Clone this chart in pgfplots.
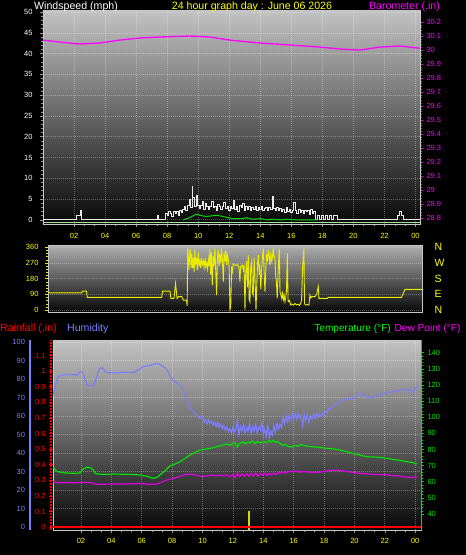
\documentclass[border=0pt]{standalone}
\usepackage{fontspec}
\setmainfont{Liberation Sans}
\usepackage{pgfplots}
\pgfplotsset{compat=1.18}
\definecolor{ylw}{RGB}{255,255,0}
\definecolor{dirylw}{RGB}{235,235,0}
\definecolor{mag}{RGB}{255,0,255}
\definecolor{dewmag}{RGB}{225,0,225}
\definecolor{humblue}{RGB}{125,125,255}
\definecolor{tgreen}{RGB}{0,225,0}
\definecolor{lgreen}{RGB}{160,235,160}
\definecolor{wgreen}{RGB}{0,215,0}
\definecolor{framegray}{RGB}{200,200,200}
\definecolor{tickgray}{RGB}{150,150,150}
\definecolor{bgtop}{RGB}{195,195,195}
\definecolor{bgmid}{RGB}{175,175,175}
\definecolor{bgbot}{RGB}{8,8,8}
\definecolor{windwhite}{RGB}{235,235,235}

\pgfplotsset{
  base/.style={scale only axis, axis line style={framegray, line width=0.8pt},
    tick align=outside, major tick length=3pt, minor tick length=2pt,
    tick style={tickgray, line width=0.6pt},
    tick label style={font=\fontsize{7.5}{8}\selectfont},
    /pgf/number format/assume math mode=true},
  gridst/.style={major grid style={white, opacity=0.3, line width=0.7pt, dash pattern=on 1pt off 1pt}},
}

\begin{document}
\begin{tikzpicture}
\fill[black] (0pt,0pt) rectangle (466pt,-555pt);

% ---------------- top panel: wind ----------------
\begin{axis}[base, gridst, at={(43pt,-224pt)}, anchor=south west, width=377pt, height=214pt,
  xmin=0, xmax=24.29, ymin=-1, ymax=50.5,
  axis background/.style={top color=bgtop, bottom color=bgbot},
  xtick={2,4,...,24}, xticklabels={02,04,06,08,10,12,14,16,18,20,22,00},
  minor x tick num=2,
  ytick={0,5,...,50}, minor y tick num=4,
  xmajorgrids, ymajorgrids,
  ytick pos=left, xtick pos=bottom,
  xticklabel style={ylw, yshift=-2.5pt},
  yticklabel style={white, xshift=-4pt}]
\addplot[lgreen, line width=1.6pt] coordinates {(0,-0.6) (24.29,-0.6)};
\addplot[const plot, windwhite, line width=0.7pt] coordinates {
(0,0)(2.1,0)(2.15,1.2)(2.3,1.2)(2.4,2.4)(2.5,0)(7.3,0)(7.35,1)(7.45,0)(7.9,1.5)(8.0,1)(8.1,2)(8.2,1.5)(8.3,0.8)(8.4,2)(8.5,1.5)(8.6,2)(8.7,1.2)(8.8,2.2)(8.9,1.8)
(9.0,2.5)(9.1,3.3)(9.2,2.2)(9.3,3.5)(9.4,4.9)(9.5,3)(9.6,8)(9.65,5.5)(9.75,3.3)(9.85,5.9)(9.95,3.5)
(10.05,2.8)(10.15,3.5)(10.25,4.4)(10.35,2.5)(10.45,4)(10.55,3.3)(10.65,2.6)(10.75,3.3)(10.85,4.4)(10.95,3)
(11.05,3.3)(11.15,2.2)(11.25,3.8)(11.35,3.3)(11.45,2.5)(11.55,3.3)(11.65,4.2)(11.75,2.8)(11.85,3.3)(11.95,2.3)
(12.05,3.3)(12.15,2.8)(12.25,4.6)(12.35,2.5)(12.45,3.3)(12.55,2)(12.65,3.6)(12.75,3)(12.85,4)(12.95,2.4)
(13.05,3.3)(13.15,2.6)(13.25,3.3)(13.35,2.2)(13.45,3)(13.55,2.5)(13.65,3.3)(13.75,2.3)(13.85,3)(13.95,2.6)
(14.05,3.3)(14.15,2.2)(14.25,2.8)(14.35,3)(14.45,2.3)(14.55,3)(14.65,2.6)(14.75,5.7)(14.85,2.8)(14.95,2.2)
(15.05,3)(15.15,2.4)(15.25,2.8)(15.35,2.1)(15.45,2.6)(15.55,1.8)(15.65,2.9)(15.75,2)(15.85,2.5)(15.95,1.9)
(16.05,2.3)(16.15,4.3)(16.25,2.3)(16.35,1.6)(16.45,2.5)(16.55,1.7)(16.65,2.4)(16.75,1.5)(16.85,2.4)(16.95,2)
(17.05,2.2)(17.15,1.3)(17.25,2.5)(17.35,1.6)(17.45,2)(17.55,0)(17.7,1.1)(17.8,0)(17.95,1.1)(18.05,0)(18.2,1.1)(18.3,0)(18.45,1.1)(18.55,0)(18.7,1.1)(18.95,0)
(22.8,0)(22.85,1.1)(22.95,2.1)(23.1,1.1)(23.2,0)(24.29,0)};
\addplot[wgreen, line width=1pt] coordinates {
(9.02,0)(9.45,0.55)(9.88,1.35)(10.1,1.1)(10.5,0.8)(11.2,1.1)(11.6,0.8)(12.2,0.3)(12.9,0.3)(13.1,0.55)(13.5,0.15)(14.0,0.3)(14.4,0)(14.8,0.15)(15.3,0)(15.7,0.15)(16.3,0)(16.8,0)(17.4,0)(17.7,0)};
\end{axis}

% barometer
\begin{axis}[base, at={(43pt,-224pt)}, anchor=south west, width=377pt, height=214pt,
  xmin=0, xmax=24.29, ymin=28.757, ymax=30.286,
  hide x axis, axis y line*=right,
  ytick={28.8,28.9,29,29.1,29.2,29.3,29.4,29.5,29.6,29.7,29.8,29.9,30,30.1,30.2},
  minor y tick num=4, tick style={mag},
  yticklabel style={mag}]
\addplot[mag, line width=1.3pt] coordinates {
(0,30.071)(1.06,30.057)(2.35,30.043)(3.65,30.05)(4.94,30.071)(6.23,30.086)(7.52,30.093)(9.45,30.1)(10.74,30.093)(12.03,30.071)(13.97,30.05)(15.9,30.036)(17.84,30.021)(19.13,30.007)(20.42,30.0)(21.71,30.021)(23.0,30.029)(24.16,30.014)(24.29,30.014)};
\end{axis}

% ---------------- middle panel: wind direction ----------------
\begin{axis}[base, gridst, at={(48pt,-312pt)}, anchor=south west, width=374pt, height=67pt,
  xmin=-0.03, xmax=24.1, ymin=-11, ymax=373,
  axis background/.style={top color=bgmid, bottom color=bgbot},
  xtick=\empty, ytick={0,90,180,270,360}, minor y tick num=4, ymajorgrids,
  ytick pos=left, tick style={dirylw},
  yticklabel style={ylw, xshift=-3pt}]
\addplot[dirylw, line width=0.9pt] coordinates {
(0,99)(2.14,99)(2.2,109)(2.45,109)(2.5,73)(7.3,73)(7.37,109)(7.84,109)(7.9,67)(8.1,67)(8.2,153)(8.3,67)(8.4,77)(8.6,77)(8.7,57)(8.9,57)(8.95,25)
(8.98,354)(9.03,300)(9.06,230)(9.09,277)(9.13,354)(9.17,330)(9.2,240)(9.25,320)(9.3,240)(9.35,300)(9.4,220)(9.45,345)(9.5,260)(9.56,300)(9.6,230)(9.67,330)(9.72,250)(9.77,290)(9.82,240)(9.88,300)(9.93,260)(9.99,280)
(10.04,245)(10.1,300)(10.15,250)(10.2,270)(10.25,235)(10.31,290)(10.36,250)(10.42,350)(10.47,200)(10.52,330)(10.57,143)(10.63,310)(10.68,250)(10.74,354)(10.79,230)(10.85,86)(10.9,300)(10.96,345)
(11.01,250)(11.06,320)(11.12,270)(11.17,354)(11.22,290)(11.28,163)(11.33,330)(11.39,280)(11.44,345)(11.49,260)(11.55,316)(11.6,290)(11.66,240)(11.71,0)(11.76,20)(11.82,250)(11.87,220)(11.92,265)
(12.0,260)(12.1,255)(12.2,262)(12.3,240)(12.35,163)(12.4,250)(12.5,258)(12.57,230)(12.62,260)(12.68,0)(12.72,200)(12.78,280)(12.84,130)(12.89,316)(12.95,60)
(13.0,48)(13.05,250)(13.11,278)(13.16,100)(13.21,86)(13.27,300)(13.32,200)(13.39,0)(13.44,150)(13.5,280)(13.54,316)(13.6,200)(13.64,260)(13.7,120)(13.75,220)(13.8,300)(13.86,354)(13.92,200)(13.97,105)
(14.03,250)(14.08,320)(14.13,280)(14.18,345)(14.24,300)(14.28,259)(14.33,330)(14.4,280)(14.45,300)(14.5,354)(14.55,310)(14.61,297)(14.66,200)(14.71,160)(14.76,67)(14.82,220)(14.89,354)(14.94,105)
(15.0,86)(15.05,67)(15.1,96)(15.15,60)(15.2,86)(15.26,48)(15.31,70)(15.36,120)(15.41,325)(15.46,50)(15.51,48)(15.56,55)(15.62,30)(15.7,35)(15.8,28)(15.9,38)
(16.0,30)(16.1,34)(16.2,26)(16.28,40)(16.33,60)(16.4,250)(16.48,354)(16.52,40)(16.58,29)(16.7,32)(16.8,29)(16.87,86)(16.93,70)
(17.0,77)(17.2,77)(17.3,90)(17.41,134)(17.45,67)(18.0,67)(18.05,73)(22.78,73)(23.0,119)(24.1,119)};
\end{axis}

% compass letters
\begin{axis}[base, at={(48pt,-312pt)}, anchor=south west, width=374pt, height=67pt,
  xmin=-0.03, xmax=24.1, ymin=-11, ymax=373,
  hide x axis, axis y line*=right, axis line style={draw=none},
  ytick={0,90,180,270,360}, yticklabels={N,E,S,W,N}, major tick length=0pt,
  yticklabel style={ylw, font=\fontsize{10.5}{12}\selectfont, xshift=9pt}]
\addplot[draw=none] coordinates {(0,0)};
\end{axis}

% ---------------- bottom panel ----------------
% frame + rain
\begin{axis}[base, gridst, at={(53pt,-530pt)}, anchor=south west, width=368pt, height=190pt,
  xmin=0.16, xmax=24.38, ymin=-0.019, ymax=1.2,
  axis background/.style={top color=bgtop, bottom color=bgbot},
  xtick={2,4,...,24}, xticklabels={02,04,06,08,10,12,14,16,18,20,22,00},
  minor x tick num=2, xmajorgrids, ytick=\empty, xtick pos=bottom,
  xticklabel style={ylw, yshift=-1.5pt}]
\addplot[ylw!85!black, line width=1.1pt] coordinates {(13.06,-0.019)(13.06,0.1)};
\addplot[red, line width=2.2pt] coordinates {(0.16,0)(24.38,0)};
\end{axis}

% humidity data + grid
\begin{axis}[base, gridst, at={(53pt,-530pt)}, anchor=south west, width=368pt, height=190pt,
  xmin=0.16, xmax=24.38, ymin=-1.5, ymax=101.2,
  axis line style={draw=none}, xtick=\empty,
  ytick={10,20,...,100}, yticklabels={}, major tick length=0pt, ymajorgrids]
\addplot[humblue, line width=1.2pt] coordinates {
(0.16,71.5)(0.3,76)(0.49,81.4)(0.82,82.3)(1.28,82.5)(1.74,82.3)(1.94,84.1)(2.14,83.5)(2.3,79)(2.45,76.5)(2.8,76.4)(2.99,80)(3.15,84.5)(3.26,86)(3.45,86.1)(3.6,84)(3.72,83.6)(4.24,83.4)(4.9,83.8)(5.43,83.6)(5.69,84.6)(6.09,86.8)(6.55,87.5)(7.01,88.6)(7.2,88)(7.47,86.5)(7.66,85)(7.85,82)(8.06,79.2)(8.39,77.5)(8.72,75.1)(8.91,70)(9.05,67)(9.2,64.5)(9.38,62.5)(9.6,60.5)(9.84,58.9)
(10.0,59.5)(10.1,56.8)(10.2,58.2)(10.3,56.0)(10.4,58.0)(10.5,56.2)(10.6,57.0)(10.7,55.2)(10.8,56.8)(10.9,54.5)
(11.0,56.5)(11.1,54.0)(11.2,55.8)(11.3,53.2)(11.4,55.0)(11.5,52.5)(11.6,54.2)(11.7,51.8)(11.8,53.5)(11.9,51.0)
(12.0,54.0)(12.1,51.5)(12.2,53.0)(12.3,58.0)(12.4,50.0)(12.5,54.5)(12.6,52.0)(12.7,55.5)(12.8,51.0)(12.9,54.0)
(13.0,52.0)(13.1,56.0)(13.2,50.5)(13.3,54.5)(13.4,52.0)(13.5,55.5)(13.6,51.0)(13.7,54.0)(13.8,52.5)(13.9,56.5)
(14.0,50.5)(14.1,53.0)(14.2,49.0)(14.3,55.0)(14.4,48.5)(14.5,52.0)(14.6,50.0)(14.7,55.0)(14.8,51.5)(14.9,56.0)
(15.0,53.0)(15.1,55.5)(15.2,54.0)(15.3,59.0)(15.4,56.0)(15.5,60.0)(15.6,57.0)(15.7,60.5)(15.8,58.0)(15.9,61.5)
(16.0,58.5)(16.1,61.0)(16.2,58.5)(16.3,61.5)(16.4,59.0)(16.5,60.5)(16.6,55.0)(16.7,61.0)(16.8,58.0)(16.9,60.5)
(17.0,56.5)(17.1,60.0)(17.2,58.5)(17.3,61.0)(17.4,59.0)(17.5,61.5)(17.6,59.5)(17.7,61.0)(17.8,60.0)(17.9,61.5)
(18.0,61.0)(18.1,62.5)(18.2,62.0)(18.3,64.0)(18.4,64.0)(18.6,65.5)(18.8,67.0)(19.0,67.5)(19.24,68.8)(19.5,69.5)(19.9,69.2)(20.1,71)(20.36,72.4)(20.6,71.5)(21.02,69.7)(21.3,70.5)(21.68,71.5)(22.1,72.8)(22.53,73.3)(23.0,74.2)(23.45,74.6)(23.7,74)(23.84,73)(24.0,75)(24.18,76.9)};
\end{axis}

% temperature + dew point
\begin{axis}[base, at={(53pt,-530pt)}, anchor=south west, width=368pt, height=190pt,
  xmin=0.16, xmax=24.38, ymin=30.1, ymax=147.9,
  hide x axis, axis y line*=right, axis line style={-, tgreen, line width=1pt},
  ytick={40,50,...,140}, minor y tick num=4, tick style={tgreen},
  yticklabel style={tgreen}]
\addplot[tgreen, line width=1.2pt] coordinates {
(0.16,69.3)(0.35,67)(0.49,66.2)(0.95,65.5)(1.61,65.2)(1.94,65.5)(2.14,67.9)(2.35,69)(2.6,68.8)(2.8,67.5)(2.93,65.2)(3.26,64.6)(4.24,64.8)(5.23,64.6)(5.89,64.2)(6.35,63.4)(6.74,62.1)(7.01,62.8)(7.2,64.2)(7.53,67)(7.86,69.8)(8.2,71)(8.52,72.4)(9.18,76.6)(9.84,79.7)(10.2,80.2)(10.49,80.7)(10.9,81.6)(11.35,82.8)(11.6,83.5)(11.8,82.6)(12.01,83.8)(12.15,84.3)(12.27,81.5)(12.4,83.2)(12.47,83.8)(12.7,84.8)(12.8,83.5)(13.0,84.6)(13.13,84.2)(13.3,85.3)(13.45,83.6)(13.6,85)(13.8,84)(13.99,85)(14.2,84.2)(14.4,85.6)(14.55,84.6)(14.64,85.8)(14.8,84.5)(14.95,84.8)(15.1,83.8)(15.3,82.6)(15.45,83.3)(15.56,82.2)(15.75,81.6)(15.92,81.9)(16.1,82.6)(16.3,81.9)(16.45,83)(16.61,82.8)(16.9,82)(17.27,81.7)(17.7,81.3)(18.19,80.7)(18.6,80.4)(19.05,79.7)(19.5,78.6)(19.9,77.6)(20.36,76.5)(20.82,75.5)(21.2,75.4)(21.68,75.1)(22.1,74.6)(22.53,73.9)(23.0,73.3)(23.45,72.4)(23.8,72.0)(24.11,71)};
\addplot[dewmag, line width=1.2pt] coordinates {
(0.16,60)(0.5,59.4)(1.0,59.6)(1.5,59.4)(2.0,59.5)(2.4,59.6)(2.8,59.2)(3.0,58.4)(4.0,58.6)(5.0,58.6)(5.9,59)(6.5,58.4)(7.0,58.6)(7.66,61.1)(8.33,62.8)(8.98,64.8)(9.3,64.6)(9.6,64.2)(9.9,63.2)(10.3,63.6)(10.6,64.2)(10.9,63.6)(11.15,64.3)(11.4,63.5)(11.6,64.4)(11.8,63)(12.0,64.5)(12.15,62.5)(12.3,65.5)(12.45,63.2)(12.6,64.8)(12.75,63.4)(12.9,65)(13.05,63.4)(13.2,65.2)(13.35,63.6)(13.5,65.4)(13.65,63.5)(13.8,65)(13.95,64)(14.1,65.5)(14.25,63.8)(14.4,65.2)(14.55,64.2)(14.7,65.3)(14.85,64.6)(15.0,65.6)(15.1,65.2)(15.3,66.2)(15.5,65.4)(15.7,66.5)(15.95,66.2)(16.2,66.8)(16.4,65.8)(16.6,66.4)(16.87,66.2)(17.2,65.8)(17.73,66)(18.2,66.7)(18.59,67.3)(19.0,67)(19.51,66.5)(19.9,65.8)(20.36,65.2)(20.8,65)(21.22,64.6)(21.7,64.6)(22.14,64.2)(22.6,63.8)(22.99,63.6)(23.45,62.8)(23.8,62.7)(24.11,63)};
\end{axis}

% humidity scale
\begin{axis}[base, at={(30pt,-530pt)}, anchor=south west, width=1pt, height=190pt,
  xmin=0, xmax=1, ymin=-1.5, ymax=101.2,
  hide x axis, axis y line=left, axis line style={-, humblue, line width=1.6pt},
  ytick={0,10,...,100}, minor y tick num=4, tick style={humblue},
  yticklabel style={humblue}]
\addplot[draw=none] coordinates {(0,0)};
\end{axis}

% rain scale
\begin{axis}[base, at={(51pt,-530pt)}, anchor=south west, width=1pt, height=190pt,
  xmin=0, xmax=1, ymin=-0.019, ymax=1.2,
  hide x axis, axis y line=left, axis line style={-, red, line width=1.3pt, dash pattern=on 2pt off 1pt},
  ytick={0,0.1,0.2,0.3,0.4,0.5,0.6,0.7,0.8,0.9,1,1.1}, major tick length=4pt, tick style={red},
  yticklabel style={red}]
\addplot[draw=none] coordinates {(0,0)};
\end{axis}

% titles
\begin{scope}[every node/.style={inner sep=0pt, font=\fontsize{10.6}{12}\selectfont}]
\node[anchor=base west, white] at (34pt,-9.5pt) {Windspeed (mph)};
\node[anchor=base, ylw] at (252pt,-9.5pt) {24 hour graph day : June 06 2026};
\node[anchor=base east, mag] at (440pt,-9.5pt) {Barometer (.in)};
\node[anchor=base west, red] at (0pt,-331pt) {Rainfall (.in)};
\node[anchor=base west, humblue] at (67pt,-331pt) {Humidity};
\node[anchor=base east, green, font=\fontsize{10.1}{12}\selectfont] at (391pt,-331pt) {Temperature (°F)};
\node[anchor=base west, mag, font=\fontsize{10.1}{12}\selectfont] at (394.5pt,-331pt) {Dew Point (°F)};
\end{scope}

\pgfresetboundingbox
\path[use as bounding box] (0pt,0pt) rectangle (466pt,-555pt);
\end{tikzpicture}
\end{document}
